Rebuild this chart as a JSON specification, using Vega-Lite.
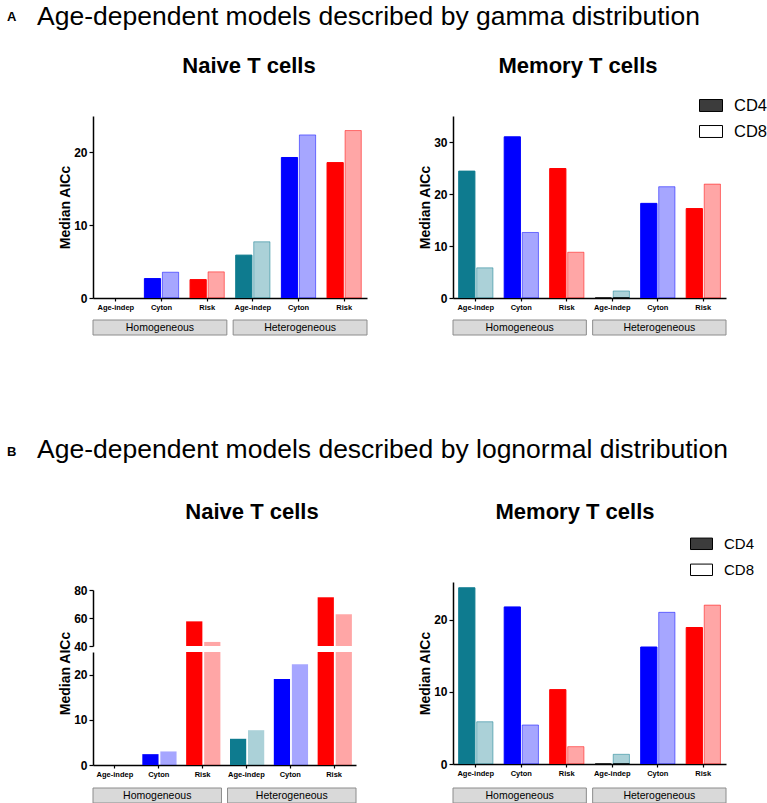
{
"$schema":"https://vega.github.io/schema/vega-lite/v6.json",
"background":"white",
"padding":{"left":7,"top":4,"right":0,"bottom":0},
"columns":2,
"bounds":"flush",
"align":{"row":"none","column":"all"},
"spacing":{"row":0,"column":86},
"config":{
 "view":{"stroke":null},
 "font":"Liberation Sans",
 "title":{"font":"Liberation Sans","color":"black","offset":0,"baseline":"alphabetic","frame":"group"},
 "axis":{"grid":false,"domainColor":"black","domainWidth":1.5,"tickColor":"black","tickWidth":1.2,"labelColor":"black","titleColor":"black","labelFont":"Liberation Sans","titleFont":"Liberation Sans","labelFontWeight":"bold","titleFontWeight":"bold"},
 "axisY":{"labelFontSize":12,"titleFontSize":14,"tickSize":4,"labelPadding":2,"titlePadding":1},
 "axisX":{"labelFontSize":7.5,"tickSize":3,"labelPadding":2,"labelAngle":0,"labelOverlap":false},
 "legend":{"labelFont":"Liberation Sans","labelColor":"black"}
},
"datasets":{
 "naiveA":[
  {"key":"Homogeneous|Age-indep","model":"Age-indep","cell":"CD4","v":0},
  {"key":"Homogeneous|Age-indep","model":"Age-indep","cell":"CD8","v":0},
  {"key":"Homogeneous|Cyton","model":"Cyton","cell":"CD4","v":2.67},
  {"key":"Homogeneous|Cyton","model":"Cyton","cell":"CD8","v":3.54},
  {"key":"Homogeneous|Risk","model":"Risk","cell":"CD4","v":2.53},
  {"key":"Homogeneous|Risk","model":"Risk","cell":"CD8","v":3.59},
  {"key":"Heterogeneous|Age-indep","model":"Age-indep","cell":"CD4","v":5.89},
  {"key":"Heterogeneous|Age-indep","model":"Age-indep","cell":"CD8","v":7.72},
  {"key":"Heterogeneous|Cyton","model":"Cyton","cell":"CD4","v":19.3},
  {"key":"Heterogeneous|Cyton","model":"Cyton","cell":"CD8","v":22.4},
  {"key":"Heterogeneous|Risk","model":"Risk","cell":"CD4","v":18.6},
  {"key":"Heterogeneous|Risk","model":"Risk","cell":"CD8","v":23.0}
 ],
 "memA":[
  {"key":"Homogeneous|Age-indep","model":"Age-indep","cell":"CD4","v":24.4},
  {"key":"Homogeneous|Age-indep","model":"Age-indep","cell":"CD8","v":5.8},
  {"key":"Homogeneous|Cyton","model":"Cyton","cell":"CD4","v":31.0},
  {"key":"Homogeneous|Cyton","model":"Cyton","cell":"CD8","v":12.6},
  {"key":"Homogeneous|Risk","model":"Risk","cell":"CD4","v":24.9},
  {"key":"Homogeneous|Risk","model":"Risk","cell":"CD8","v":8.8},
  {"key":"Heterogeneous|Age-indep","model":"Age-indep","cell":"CD4","v":0},
  {"key":"Heterogeneous|Age-indep","model":"Age-indep","cell":"CD8","v":1.35},
  {"key":"Heterogeneous|Cyton","model":"Cyton","cell":"CD4","v":18.2},
  {"key":"Heterogeneous|Cyton","model":"Cyton","cell":"CD8","v":21.4},
  {"key":"Heterogeneous|Risk","model":"Risk","cell":"CD4","v":17.2},
  {"key":"Heterogeneous|Risk","model":"Risk","cell":"CD8","v":21.9}
 ],
 "naiveB":[
  {"key":"Homogeneous|Age-indep","model":"Age-indep","cell":"CD4","v":0},
  {"key":"Homogeneous|Age-indep","model":"Age-indep","cell":"CD8","v":0},
  {"key":"Homogeneous|Cyton","model":"Cyton","cell":"CD4","v":2.4},
  {"key":"Homogeneous|Cyton","model":"Cyton","cell":"CD8","v":3.0},
  {"key":"Homogeneous|Risk","model":"Risk","cell":"CD4","v":57.6},
  {"key":"Homogeneous|Risk","model":"Risk","cell":"CD8","v":42.9},
  {"key":"Heterogeneous|Age-indep","model":"Age-indep","cell":"CD4","v":5.8},
  {"key":"Heterogeneous|Age-indep","model":"Age-indep","cell":"CD8","v":7.7},
  {"key":"Heterogeneous|Cyton","model":"Cyton","cell":"CD4","v":19.0},
  {"key":"Heterogeneous|Cyton","model":"Cyton","cell":"CD8","v":22.3},
  {"key":"Heterogeneous|Risk","model":"Risk","cell":"CD4","v":74.8},
  {"key":"Heterogeneous|Risk","model":"Risk","cell":"CD8","v":62.6}
 ],
 "memB":[
  {"key":"Homogeneous|Age-indep","model":"Age-indep","cell":"CD4","v":24.4},
  {"key":"Homogeneous|Age-indep","model":"Age-indep","cell":"CD8","v":5.85},
  {"key":"Homogeneous|Cyton","model":"Cyton","cell":"CD4","v":21.75},
  {"key":"Homogeneous|Cyton","model":"Cyton","cell":"CD8","v":5.4},
  {"key":"Homogeneous|Risk","model":"Risk","cell":"CD4","v":10.3},
  {"key":"Homogeneous|Risk","model":"Risk","cell":"CD8","v":2.4},
  {"key":"Heterogeneous|Age-indep","model":"Age-indep","cell":"CD4","v":0},
  {"key":"Heterogeneous|Age-indep","model":"Age-indep","cell":"CD8","v":1.34},
  {"key":"Heterogeneous|Cyton","model":"Cyton","cell":"CD4","v":16.2},
  {"key":"Heterogeneous|Cyton","model":"Cyton","cell":"CD8","v":21.0},
  {"key":"Heterogeneous|Risk","model":"Risk","cell":"CD4","v":18.9},
  {"key":"Heterogeneous|Risk","model":"Risk","cell":"CD8","v":22.0}
 ],
 "legendRows":[
  {"key":"Heterogeneous|Age-indep","cell":"CD4","v":0},
  {"key":"Heterogeneous|Age-indep","cell":"CD8","v":0}
 ],
 "strip":[{"grp":"Homogeneous"},{"grp":"Heterogeneous"}]
},
"concat":[
 {"width":274,"height":182,
  "data":{"name":"naiveA"},"transform":[{"filter":"datum.v > 0"}],
  "mark":{"type":"bar","clip":true,"strokeWidth":1},
  "encoding":{
   "x":{"field":"key","type":"nominal","sort":null,"scale":{"domain":["Homogeneous|Age-indep","Homogeneous|Cyton","Homogeneous|Risk","Heterogeneous|Age-indep","Heterogeneous|Cyton","Heterogeneous|Risk"],"paddingInner":0.25,"paddingOuter":0.125},"axis":{"title":null,"labelExpr":"split(datum.label,'|')[1]"}},
   "xOffset":{"field":"cell","type":"nominal","scale":{"domain":["CD4","CD8"],"paddingInner":0.1}},
   "y":{"field":"v","type":"quantitative","scale":{"domain":[0,25],"nice":false},"axis":{"values":[0,10,20],"title":"Median AICc"}},
   "fill":{"field":"model","type":"nominal","scale":{"domain":["Age-indep","Cyton","Risk"],"range":["#0e7b8f","#0000ff","#ff0000"]},"legend":null},
   "stroke":{"field":"model","type":"nominal","scale":{"domain":["Age-indep","Cyton","Risk"],"range":["#0e7b8f","#0000ff","#ff0000"]},"legend":null},
   "fillOpacity":{"field":"cell","type":"nominal","scale":{"domain":["CD4","CD8"],"range":[1,0.35]},"legend":null},
   "strokeOpacity":{"field":"cell","type":"nominal","scale":{"domain":["CD4","CD8"],"range":[1,0.5]},"legend":null}
  }},
 {"width":273,"height":182,
  "layer":[
   {"data":{"name":"memA"},"transform":[{"filter":"datum.v > 0"}],
    "mark":{"type":"bar","clip":true,"strokeWidth":1},
    "encoding":{
     "x":{"field":"key","type":"nominal","sort":null,"scale":{"domain":["Homogeneous|Age-indep","Homogeneous|Cyton","Homogeneous|Risk","Heterogeneous|Age-indep","Heterogeneous|Cyton","Heterogeneous|Risk"],"paddingInner":0.25,"paddingOuter":0.125},"axis":{"title":null,"labelExpr":"split(datum.label,'|')[1]"}},
     "xOffset":{"field":"cell","type":"nominal","scale":{"domain":["CD4","CD8"],"paddingInner":0.1}},
     "y":{"field":"v","type":"quantitative","scale":{"domain":[0,35],"nice":false},"axis":{"values":[0,10,20,30],"title":"Median AICc"}},
     "fill":{"field":"model","type":"nominal","scale":{"domain":["Age-indep","Cyton","Risk"],"range":["#0e7b8f","#0000ff","#ff0000"]},"legend":null},
     "stroke":{"field":"model","type":"nominal","scale":{"domain":["Age-indep","Cyton","Risk"],"range":["#0e7b8f","#0000ff","#ff0000"]},"legend":null},
     "fillOpacity":{"field":"cell","type":"nominal","scale":{"domain":["CD4","CD8"],"range":[1,0.35]},"legend":null},
     "strokeOpacity":{"field":"cell","type":"nominal","scale":{"domain":["CD4","CD8"],"range":[1,0.5]},"legend":null}
    }},
   {"data":{"name":"legendRows"},
    "mark":{"type":"bar","stroke":"black","strokeWidth":1},
    "encoding":{
     "x":{"field":"key","type":"nominal","sort":null,"axis":{"title":null,"labelExpr":"split(datum.label,'|')[1]"}},
     "xOffset":{"field":"cell","type":"nominal"},
     "y":{"field":"v","type":"quantitative","title":"Median AICc"},
     "fill":{"field":"cell","type":"nominal","scale":{"domain":["CD4","CD8"],"range":["#3c3c3c","#ffffff"]},
      "legend":{"orient":"none","legendX":246,"legendY":-22.5,"title":null,"symbolType":"M-1,-0.52H1V0.52H-1Z","symbolSize":529,"symbolStrokeColor":"black","symbolStrokeWidth":1,"labelFontSize":16.5,"labelOffset":11,"rowPadding":5,"padding":0,
       "encode":{"symbols":{"update":{"stroke":{"value":"black"},"strokeWidth":{"value":1}}}}}}
    }}
  ],
  "resolve":{"scale":{"fill":"independent"}}},
 {"width":274,"height":22,"data":{"values":[]},"mark":"point","encoding":{},
  "title":{"text":"A","fontSize":13,"fontWeight":"bold","anchor":"start","dx":-86,"dy":-270.5}},
 {"width":273,"height":22,"data":{"values":[]},"mark":"point","encoding":{},
  "title":{"text":"Age-dependent models described by gamma distribution","fontSize":26.5,"fontWeight":"normal","anchor":"start","dx":-416,"dy":-263.5}},
 {"width":274,"height":15,"data":{"name":"strip"},
  "title":{"text":"Naive T cells","fontSize":22,"fontWeight":"bold","anchor":"middle","dx":19,"dy":-238},
  "layer":[
   {"mark":{"type":"rect","fill":"#d9d9d9","stroke":"#8c8c8c","strokeWidth":1},"encoding":{"x":{"field":"grp","type":"nominal","sort":null,"axis":null,"scale":{"paddingInner":0.045,"paddingOuter":0}}}},
   {"mark":{"type":"text","fontSize":10.5,"color":"black","font":"Liberation Sans"},"encoding":{"x":{"field":"grp","type":"nominal","sort":null,"axis":null},"text":{"field":"grp","type":"nominal"}}}
  ]},
 {"width":273,"height":15,"data":{"name":"strip"},
  "title":{"text":"Memory T cells","fontSize":22,"fontWeight":"bold","anchor":"middle","dx":-11.5,"dy":-238},
  "layer":[
   {"mark":{"type":"rect","fill":"#d9d9d9","stroke":"#8c8c8c","strokeWidth":1},"encoding":{"x":{"field":"grp","type":"nominal","sort":null,"axis":null,"scale":{"paddingInner":0.045,"paddingOuter":0}}}},
   {"mark":{"type":"text","fontSize":10.5,"color":"black","font":"Liberation Sans"},"encoding":{"x":{"field":"grp","type":"nominal","sort":null,"axis":null},"text":{"field":"grp","type":"nominal"}}}
  ]},
 {"width":274,"height":246.7,"data":{"values":[]},"mark":"point","encoding":{},
  "title":{"text":"Naive T cells","fontSize":22,"fontWeight":"bold","anchor":"middle","dx":22,"dy":192.5}},
 {"width":273,"height":246.7,"data":{"values":[]},"mark":"point","encoding":{},
  "title":{"text":"Memory T cells","fontSize":22,"fontWeight":"bold","anchor":"middle","dx":-14.5,"dy":192.5}},
 {"width":263,"height":183,
  "layer":[
   {"data":{"name":"naiveB"},"transform":[{"filter":"datum.v > 40"}],
    "mark":{"type":"bar","clip":true,"strokeWidth":0},
    "encoding":{
     "x":{"field":"key","type":"nominal","sort":null,"scale":{"domain":["Homogeneous|Age-indep","Homogeneous|Cyton","Homogeneous|Risk","Heterogeneous|Age-indep","Heterogeneous|Cyton","Heterogeneous|Risk"],"paddingInner":0.25,"paddingOuter":0.125},"axis":{"title":null,"labelExpr":"split(datum.label,'|')[1]"}},
     "xOffset":{"field":"cell","type":"nominal","scale":{"domain":["CD4","CD8"],"paddingInner":0.1}},
     "y":{"field":"v","type":"quantitative","scale":{"domain":[40,80],"range":[64,8],"nice":false,"zero":false,"clamp":true},"axis":{"values":[40,60,80],"title":null,"orient":"left"}},
     "y2":{"datum":40},
     "fill":{"field":"model","type":"nominal","scale":{"domain":["Age-indep","Cyton","Risk"],"range":["#0e7b8f","#0000ff","#ff0000"]},"legend":null},
     "fillOpacity":{"field":"cell","type":"nominal","scale":{"domain":["CD4","CD8"],"range":[1,0.35]},"legend":null}
    }},
   {"data":{"name":"naiveB"},"transform":[{"filter":"datum.v > 0"}],
    "mark":{"type":"bar","clip":true,"strokeWidth":0},
    "encoding":{
     "x":{"field":"key","type":"nominal","sort":null,"scale":{"domain":["Homogeneous|Age-indep","Homogeneous|Cyton","Homogeneous|Risk","Heterogeneous|Age-indep","Heterogeneous|Cyton","Heterogeneous|Risk"],"paddingInner":0.25,"paddingOuter":0.125},"axis":{"title":null,"labelExpr":"split(datum.label,'|')[1]"}},
     "xOffset":{"field":"cell","type":"nominal","scale":{"domain":["CD4","CD8"],"paddingInner":0.1}},
     "y":{"field":"v","type":"quantitative","scale":{"domain":[0,25],"range":[183,70],"nice":false,"clamp":true},"axis":{"values":[0,10,20],"title":"Median AICc","titleY":91,"orient":"left"}},
     "y2":{"datum":0},
     "fill":{"field":"model","type":"nominal","scale":{"domain":["Age-indep","Cyton","Risk"],"range":["#0e7b8f","#0000ff","#ff0000"]},"legend":null},
     "fillOpacity":{"field":"cell","type":"nominal","scale":{"domain":["CD4","CD8"],"range":[1,0.35]},"legend":null}
    }}
  ],
  "resolve":{"scale":{"y":"independent"},"axis":{"y":"independent"}}},
 {"width":273,"height":182,
  "layer":[
   {"data":{"name":"memB"},"transform":[{"filter":"datum.v > 0"}],
    "mark":{"type":"bar","clip":true,"strokeWidth":1},
    "encoding":{
     "x":{"field":"key","type":"nominal","sort":null,"scale":{"domain":["Homogeneous|Age-indep","Homogeneous|Cyton","Homogeneous|Risk","Heterogeneous|Age-indep","Heterogeneous|Cyton","Heterogeneous|Risk"],"paddingInner":0.25,"paddingOuter":0.125},"axis":{"title":null,"labelExpr":"split(datum.label,'|')[1]"}},
     "xOffset":{"field":"cell","type":"nominal","scale":{"domain":["CD4","CD8"],"paddingInner":0.1}},
     "y":{"field":"v","type":"quantitative","scale":{"domain":[0,25.2],"nice":false},"axis":{"values":[0,10,20],"title":"Median AICc"}},
     "fill":{"field":"model","type":"nominal","scale":{"domain":["Age-indep","Cyton","Risk"],"range":["#0e7b8f","#0000ff","#ff0000"]},"legend":null},
     "stroke":{"field":"model","type":"nominal","scale":{"domain":["Age-indep","Cyton","Risk"],"range":["#0e7b8f","#0000ff","#ff0000"]},"legend":null},
     "fillOpacity":{"field":"cell","type":"nominal","scale":{"domain":["CD4","CD8"],"range":[1,0.35]},"legend":null},
     "strokeOpacity":{"field":"cell","type":"nominal","scale":{"domain":["CD4","CD8"],"range":[1,0.5]},"legend":null}
    }},
   {"data":{"name":"legendRows"},
    "mark":{"type":"bar","stroke":"black","strokeWidth":1},
    "encoding":{
     "x":{"field":"key","type":"nominal","sort":null,"axis":{"title":null,"labelExpr":"split(datum.label,'|')[1]"}},
     "xOffset":{"field":"cell","type":"nominal"},
     "y":{"field":"v","type":"quantitative","title":"Median AICc"},
     "fill":{"field":"cell","type":"nominal","scale":{"domain":["CD4","CD8"],"range":["#3c3c3c","#ffffff"]},
      "legend":{"orient":"none","legendX":237,"legendY":-49.7,"title":null,"symbolType":"M-1,-0.52H1V0.52H-1Z","symbolSize":484,"symbolStrokeColor":"black","symbolStrokeWidth":1,"labelFontSize":15,"labelOffset":11,"rowPadding":6,"padding":0,
       "encode":{"symbols":{"update":{"stroke":{"value":"black"},"strokeWidth":{"value":1}}}}}}
    }}
  ],
  "resolve":{"scale":{"fill":"independent"}}},
 {"width":274,"height":22.3,"data":{"values":[]},"mark":"point","encoding":{},
  "title":{"text":"B","fontSize":13,"fontWeight":"bold","anchor":"start","dx":-86,"dy":-302.2}},
 {"width":273,"height":22.3,"data":{"values":[]},"mark":"point","encoding":{},
  "title":{"text":"Age-dependent models described by lognormal distribution","fontSize":26.5,"fontWeight":"normal","anchor":"start","dx":-416,"dy":-297.2}},
 {"width":263,"height":15,"data":{"name":"strip"},
  "layer":[
   {"mark":{"type":"rect","fill":"#d9d9d9","stroke":"#8c8c8c","strokeWidth":1},"encoding":{"x":{"field":"grp","type":"nominal","sort":null,"axis":null,"scale":{"paddingInner":0.045,"paddingOuter":0}}}},
   {"mark":{"type":"text","fontSize":10.5,"color":"black","font":"Liberation Sans"},"encoding":{"x":{"field":"grp","type":"nominal","sort":null,"axis":null},"text":{"field":"grp","type":"nominal"}}}
  ]},
 {"width":273,"height":15,"data":{"name":"strip"},
  "layer":[
   {"mark":{"type":"rect","fill":"#d9d9d9","stroke":"#8c8c8c","strokeWidth":1},"encoding":{"x":{"field":"grp","type":"nominal","sort":null,"axis":null,"scale":{"paddingInner":0.045,"paddingOuter":0}}}},
   {"mark":{"type":"text","fontSize":10.5,"color":"black","font":"Liberation Sans"},"encoding":{"x":{"field":"grp","type":"nominal","sort":null,"axis":null},"text":{"field":"grp","type":"nominal"}}}
  ]}
]
}
